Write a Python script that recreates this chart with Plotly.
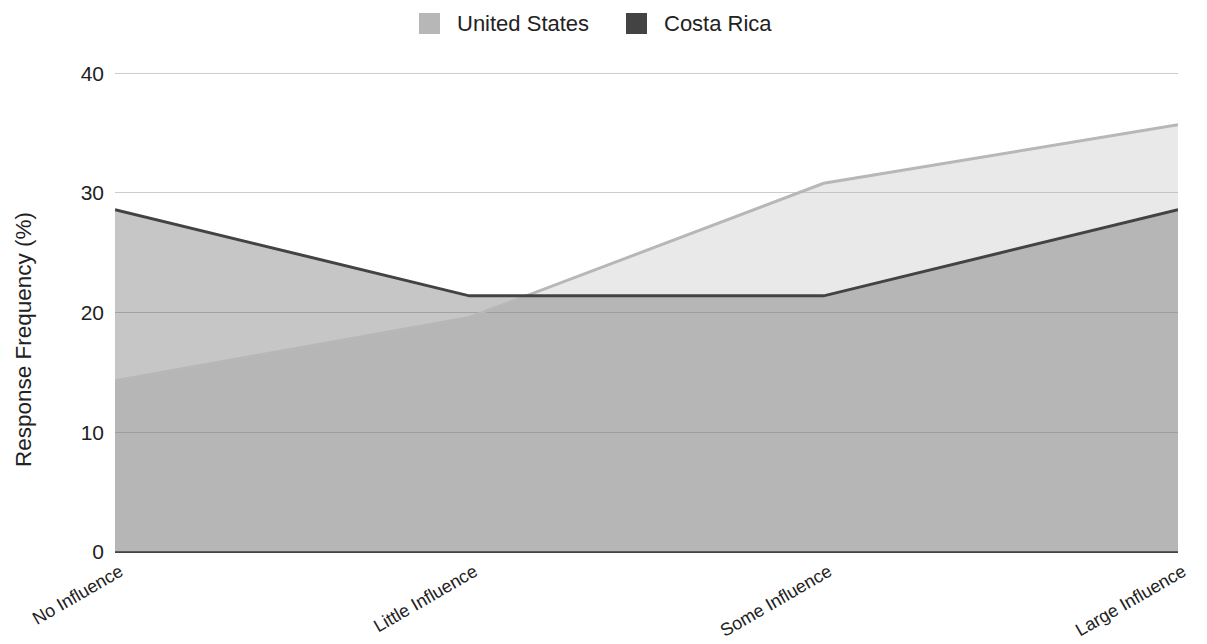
import plotly.graph_objects as go

categories = ["No Influence", "Little Influence", "Some Influence", "Large Influence"]
us_values = [14.3, 19.6, 30.8, 35.7]
cr_values = [28.6, 21.4, 21.4, 28.6]
series_names = ["United States", "Costa Rica"]
y_title = "Response Frequency (%)"

us_color = "#b7b7b7"
cr_color = "#434343"
FONT = "Liberation Sans, Arial, sans-serif"

W, H = 1207, 644
M_L, M_R, M_T, M_B = 115, 29, 72, 92
PLOT_W = W - M_L - M_R
PLOT_H = H - M_T - M_B


def px_x(px):
    return (px - M_L) / PLOT_W


def px_y(py):
    return (H - M_B - py) / PLOT_H


fig = go.Figure()

# Filled areas first, so both outlines sit on top of the fills
fig.add_trace(go.Scatter(
    x=categories, y=us_values, mode="lines", fill="tozeroy",
    line=dict(color=us_color, width=0),
    fillcolor="rgba(183,183,183,0.3)", hoverinfo="skip",
))
fig.add_trace(go.Scatter(
    x=categories, y=cr_values, mode="lines", fill="tozeroy",
    line=dict(color=cr_color, width=0),
    fillcolor="rgba(67,67,67,0.3)", hoverinfo="skip",
))

# Outlines
fig.add_trace(go.Scatter(
    x=categories, y=us_values, mode="lines",
    line=dict(color=us_color, width=3), name=series_names[0],
))
fig.add_trace(go.Scatter(
    x=categories, y=cr_values, mode="lines",
    line=dict(color=cr_color, width=3), name=series_names[1],
))

# Legend drawn as square swatches + labels above the plot
legend_items = [(series_names[0], us_color, 419, 456), (series_names[1], cr_color, 626, 663)]
shapes, annotations = [], []
for name, color, sq_left, text_left in legend_items:
    shapes.append(dict(
        type="rect", xref="paper", yref="paper",
        x0=px_x(sq_left), x1=px_x(sq_left + 21),
        y0=px_y(34), y1=px_y(13),
        fillcolor=color, line=dict(width=0), layer="above",
    ))
    annotations.append(dict(
        text=name, xref="paper", yref="paper",
        x=px_x(text_left), y=px_y(24), xanchor="left", yanchor="middle",
        showarrow=False, borderpad=0,
        font=dict(size=22, color="#222222", family=FONT),
    ))

# Vertical axis title
annotations.append(dict(
    text=y_title, xref="paper", yref="paper",
    x=px_x(23), y=px_y(340), xanchor="center", yanchor="middle",
    textangle=-90, showarrow=False, borderpad=0,
    font=dict(size=22.5, color="#222222", family=FONT),
))

fig.update_layout(
    width=W, height=H,
    margin=dict(l=M_L, r=M_R, t=M_T, b=M_B),
    paper_bgcolor="white", plot_bgcolor="white",
    showlegend=False,
    font=dict(family=FONT, color="#222222", size=21),
    shapes=shapes, annotations=annotations,
    xaxis=dict(
        type="category", range=[0, 3], showgrid=False, ticks="",
        tickangle=-30, tickfont=dict(size=18, color="#222222"),
        ticklabelstandoff=5, ticklabelshift=5,
        showline=False, zeroline=False, automargin=False,
    ),
    yaxis=dict(
        range=[0, 40.1], tickvals=[0, 10, 20, 30, 40], showgrid=True,
        gridcolor="#cccccc", gridwidth=1, zeroline=True, zerolinecolor="#444444",
        zerolinewidth=2, tickfont=dict(size=21, color="#222222"), ticks="",
        ticklabelstandoff=10, automargin=False,
    ),
)

fig.write_html("out.html")
